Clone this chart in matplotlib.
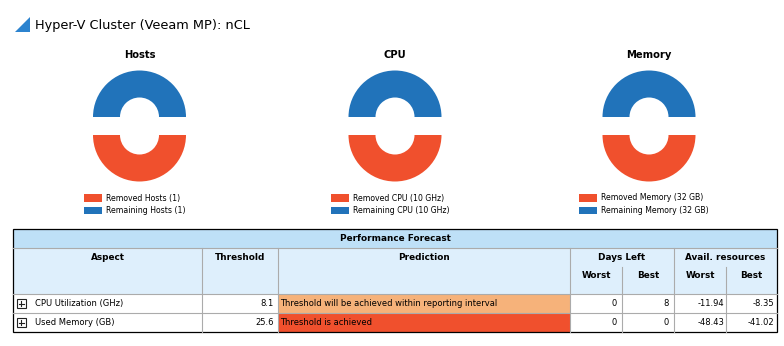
import matplotlib
matplotlib.use("Agg")
import matplotlib.pyplot as plt
from matplotlib.patches import Rectangle, Polygon
from matplotlib.legend import Legend

plt.rcParams['font.family'] = ['DejaVu Sans']

# donut charts
chart_titles = ["Hosts", "CPU", "Memory"]
removed_vals = [1, 10, 32]
remaining_vals = [1, 10, 32]
units = ["", " GHz", " GB"]
red = "#F0502D"
blue = "#2173BA"

# forecast table
aspects = ["CPU Utilization (GHz)", "Used Memory (GB)"]
thresholds = [8.1, 25.6]
predictions = ["Threshold will be achieved within reporting interval", "Threshold is achieved"]
pred_colors = ["#F6B27A", "#F0502D"]
days_worst = [0, 0]
days_best = [8, 0]
avail_worst = [-11.94, -48.43]
avail_best = [-8.35, -41.02]

W, H = 784, 346
fig = plt.figure(figsize=(W / 100, H / 100), dpi=100)
ax = fig.add_axes([0, 0, 1, 1])
ax.set_xlim(0, W)
ax.set_ylim(H, 0)
ax.axis('off')

# page title
ax.add_patch(Polygon([(15, 32), (30, 17), (30, 32)], closed=True, color="#2C83CF", lw=0))
ax.text(35, 26, "Hyper-V Cluster (Veeam MP): nCL", fontsize=9.3, va='center', ha='left')

# donuts
centers = [139.5, 395, 649]
cy = 126
r = 46.5
box = 120
for i, name in enumerate(chart_titles):
    cx = centers[i]
    pax = fig.add_axes([(cx - box / 2) / W, (H - cy - box / 2) / H, box / W, box / H])
    wedges, _ = pax.pie([removed_vals[i], remaining_vals[i]], colors=[red, blue],
                        startangle=180, explode=[9 / r, 9 / r],
                        wedgeprops=dict(width=27 / r, linewidth=0))
    lim = box / 2 / r
    pax.set_xlim(-lim, lim)
    pax.set_ylim(-lim, lim)
    pax.axis('off')
    ax.text(cx, 55, name, fontsize=7.2, fontweight='bold', ha='center', va='center')
    labels = ["Removed %s (%d%s)" % (name, removed_vals[i], units[i]),
              "Remaining %s (%d%s)" % (name, remaining_vals[i], units[i])]
    leg = Legend(ax, wedges, labels, loc='upper center', bbox_to_anchor=(cx - 5, 193.5),
                 bbox_transform=ax.transData, frameon=False, fontsize=5.6,
                 handlelength=2.3, handleheight=1.1, handletextpad=0.5,
                 labelspacing=0.45, borderpad=0, borderaxespad=0)
    ax.add_artist(leg)

# table geometry
x0, x1 = 13, 777
cols = [13, 202, 278, 570, 622, 674, 726, 777]
y_top, y_hdr, y_sub, y_row = 229, 248, 267, 294
row_h = 19
grid = "#ABABAB"
fs = 6

ax.add_patch(Rectangle((x0, y_top), x1 - x0, y_hdr - y_top, color="#BEE0F7", lw=0))
ax.add_patch(Rectangle((x0, y_hdr), x1 - x0, y_row - y_hdr, color="#DEEFFC", lw=0))
ax.text((x0 + x1) / 2, 238.5, "Performance Forecast", fontsize=6.4, fontweight='bold',
        ha='center', va='center')

heads = ["Aspect", "Threshold", "Prediction"]
for j, h in enumerate(heads):
    ax.text((cols[j] + cols[j + 1]) / 2, 258, h, fontsize=6.4, fontweight='bold',
            ha='center', va='center')
ax.text((cols[3] + cols[5]) / 2, 258, "Days Left", fontsize=6.4, fontweight='bold',
        ha='center', va='center')
ax.text((cols[5] + cols[7]) / 2, 258, "Avail. resources", fontsize=6.4, fontweight='bold',
        ha='center', va='center')
for j, h in zip(range(3, 7), ["Worst", "Best", "Worst", "Best"]):
    ax.text((cols[j] + cols[j + 1]) / 2, 275, h, fontsize=6.4, fontweight='bold',
            ha='center', va='center')

y_end = y_row + row_h * len(aspects)
for k in range(len(aspects)):
    ry = y_row + k * row_h
    ym = ry + row_h / 2
    ax.add_patch(Rectangle((cols[2], ry), cols[3] - cols[2], row_h,
                           color=pred_colors[k], lw=0))
    # expand icon
    ax.add_patch(Rectangle((17, ym - 4.5), 9, 9, fill=False, ec="#222222", lw=0.8))
    ax.plot([19, 24], [ym, ym], color="#222222", lw=0.8)
    ax.plot([21.5, 21.5], [ym - 2.5, ym + 2.5], color="#222222", lw=0.8)
    ax.text(35, ym, aspects[k], fontsize=fs, ha='left', va='center')
    ax.text(cols[2] - 4, ym, "%.1f" % thresholds[k], fontsize=fs, ha='right', va='center')
    ax.text(cols[2] + 2, ym, predictions[k], fontsize=fs, ha='left', va='center')
    ax.text(cols[4] - 5, ym, "%d" % days_worst[k], fontsize=fs, ha='right', va='center')
    ax.text(cols[5] - 5, ym, "%d" % days_best[k], fontsize=fs, ha='right', va='center')
    ax.text(cols[6] - 2, ym, "%.2f" % avail_worst[k], fontsize=fs, ha='right', va='center')
    ax.text(cols[7] - 3, ym, "%.2f" % avail_best[k], fontsize=fs, ha='right', va='center')

# grid lines
ax.plot([x0, x1], [y_hdr, y_hdr], color=grid, lw=0.8)
for k in range(len(aspects)):
    yy = y_row + k * row_h
    ax.plot([x0, x1], [yy, yy], color=grid, lw=0.8)
for j in [1, 2, 3, 5]:
    ax.plot([cols[j], cols[j]], [y_hdr, y_end], color=grid, lw=0.8)
for j in [4, 6]:
    ax.plot([cols[j], cols[j]], [y_sub, y_end], color=grid, lw=0.8)
ax.add_patch(Rectangle((x0, y_top), x1 - x0, y_end - y_top, fill=False, ec="black", lw=0.9))

fig.savefig("out.png", dpi=100)
